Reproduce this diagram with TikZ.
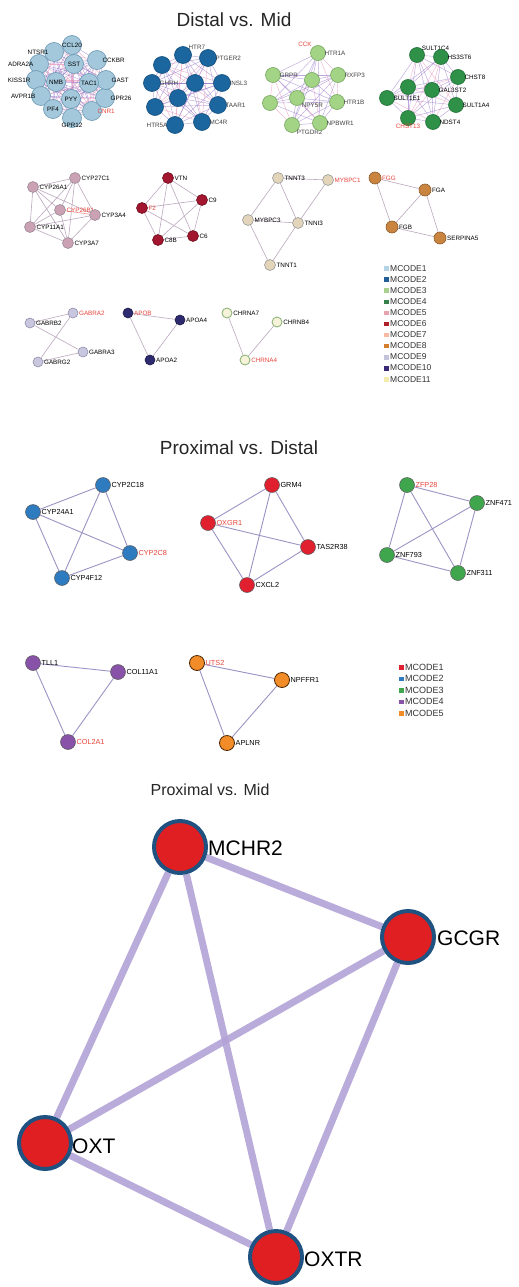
\documentclass[tikz,border=0pt]{standalone}
\usepackage{fontspec}
\setmainfont{Liberation Sans}
\pgfdeclarelayer{bg}
\pgfdeclarelayer{edges}
\pgfsetlayers{bg,edges,main}
% colours
\definecolor{labred}{HTML}{E8453C}
\definecolor{epurp}{HTML}{9270C8}
\definecolor{epink}{HTML}{E98BB5}
\definecolor{cA}{HTML}{A3C8DC}\definecolor{cAd}{HTML}{6A97B2}
\definecolor{cB}{HTML}{1C66A0}\definecolor{cBd}{HTML}{134E7C}
\definecolor{cC}{HTML}{A3D385}\definecolor{cCd}{HTML}{78A862}
\definecolor{cD}{HTML}{2E9147}\definecolor{cDd}{HTML}{1F6E36}
\definecolor{cE}{HTML}{CBA2B3}\definecolor{cEd}{HTML}{9C8A97}
\definecolor{cF}{HTML}{A2172F}\definecolor{cFd}{HTML}{6E1020}
\definecolor{cG}{HTML}{E3D5B9}\definecolor{cGd}{HTML}{9A9A9A}
\definecolor{cH}{HTML}{C98440}\definecolor{cHd}{HTML}{8D5A28}
\definecolor{cI}{HTML}{C9C7DF}\definecolor{cId}{HTML}{8F8FA8}
\definecolor{cJ}{HTML}{2E2A70}\definecolor{cJd}{HTML}{1C1A45}
\definecolor{cK}{HTML}{F6F3DA}\definecolor{cKd}{HTML}{8FB57A}
\definecolor{lg1}{HTML}{B5D3E6}\definecolor{lg2}{HTML}{215D97}
\definecolor{lg3}{HTML}{A9D18E}\definecolor{lg4}{HTML}{34804A}
\definecolor{lg5}{HTML}{E7A3AB}\definecolor{lg6}{HTML}{B01F2A}
\definecolor{lg7}{HTML}{F8B9A1}\definecolor{lg8}{HTML}{D57E2E}
\definecolor{lg9}{HTML}{C3C3DC}\definecolor{lg10}{HTML}{3B2A78}
\definecolor{lg11}{HTML}{F3ECAE}
\definecolor{pBlue}{HTML}{2F7BBF}\definecolor{pRed}{HTML}{E0202F}
\definecolor{pGreen}{HTML}{3FA64E}\definecolor{pPurp}{HTML}{8752A8}
\definecolor{pOrng}{HTML}{F28C28}
\definecolor{gEdge}{HTML}{BBA8BE}
\definecolor{pEdge}{HTML}{9D93C4}
\definecolor{bigEdge}{HTML}{B3A3D6}
\definecolor{bigFill}{HTML}{E01F22}
\definecolor{bigRing}{HTML}{1F5280}
\tikzset{
  lb/.style={font=\fontsize{6.3}{7}\selectfont, text=black!75, inner sep=0.6pt},
  lbm/.style={font=\fontsize{7.3}{8}\selectfont, text=black!85, inner sep=0.6pt},
  nd/.style={circle, inner sep=0pt, line width=0.6pt},
  ndA/.style={nd, minimum size=19pt, fill=cA, draw=cAd},
  ndB/.style={nd, minimum size=17pt, fill=cB, draw=cBd},
  ndC/.style={nd, minimum size=15pt, fill=cC, draw=cCd},
  ndD/.style={nd, minimum size=15pt, fill=cD, draw=cDd},
  ndS/.style={nd, minimum size=11pt},
  ndP/.style={nd, minimum size=15pt, draw=black!65, line width=0.5pt},
  edT/.style={line width=0.45pt, opacity=0.6},
  edG/.style={line width=0.6pt, draw=gEdge},
  edP/.style={line width=0.9pt, draw=pEdge},
  edBig/.style={line width=7pt, draw=bigEdge, opacity=0.9},
  bigN/.style={circle, inner sep=0pt, minimum size=52pt, fill=bigFill, draw=bigRing, line width=4pt},
  bigL/.style={font=\fontsize{21}{24}\selectfont, anchor=west, inner sep=0pt, text=black},
  ttl/.style={font=\fontsize{19}{22}\selectfont, text=black!85},
  legsq/.style={inner sep=0pt, minimum size=5.5pt, draw=white, line width=0.3pt},
  legtx/.style={font=\fontsize{8.5}{9}\selectfont, anchor=west, inner sep=0pt, text=black!80},
}
\newcommand\myclique[2]{%
  \pgfmathtruncatemacro\mm{#2-1}%
  \foreach \i in {1,...,\mm}{%
    \pgfmathtruncatemacro\kk{\i+1}%
    \foreach \j in {\kk,...,#2}{%
      \pgfmathtruncatemacro\cc{mod(\i+2*\j,3)}%
      \ifnum\cc=0 \def\ec{epink}\else\def\ec{epurp}\fi
      \draw[edT, draw=\ec] (#1\i) -- (#1\j);
    }%
  }%
}
\begin{document}
\begin{tikzpicture}[x=1pt,y=-1pt]
\begin{pgfonlayer}{bg}
\fill[white] (0,0) rectangle (519,1287);
\end{pgfonlayer}
\useasboundingbox (0,0) rectangle (519,1287);

% ---------------- Distal vs. Mid ----------------
\node[ttl] (t1) at (234,20) {Distal vs. Mid};

% MCODE1
\foreach \n/\x/\y/\a/\t/\c in {
 1/72/45/center/CCL20/black, 2/54/52/west/NTSR1/black, 3/39/64/west/ADRA2A/black,
 4/36/80/west/KISS1R/black, 5/41/96/west/AVPR1B/black, 6/53/109/center/PF4/black,
 7/72/118/south/GPR12/black, 8/92/111/east/CNR1/labred, 9/105/98/east/GPR26/black,
 10/106/80/east/GAST/black, 11/97/60/east/CCKBR/black, 12/74/64/center/SST/black,
 13/56/82/center/NMB/black, 14/89/83/center/TAC1/black, 15/71/99/center/PYY/black}
 {\node[ndA, label={[lb, text=\c, label distance=-5pt]\a:\t}] (a\n) at (\x,\y) {};}

% MCODE2
\foreach \n/\x/\y/\a/\t in {
 1/183/55/north east/HTR7, 2/208/58/east/PTGER2, 3/162/65/east/{}, 4/152/83/east/GHRH,
 5/195/83/east/{}, 6/222/83/east/INSL3, 7/178/98/east/{}, 8/155/107/east/{},
 9/218/105/east/TAAR1, 10/175/125/west/HTR5A, 11/202/122/east/MC4R}
 {\node[ndB, label={[lb, label distance=-2pt]\a:\t}] (b\n) at (\x,\y) {};}

% MCODE3
\foreach \n/\x/\y/\a/\t in {
 1/318/53/east/HTR1A, 2/273/75/east/GRPR, 3/312/80/east/{}, 4/338/75/east/RXFP3,
 5/270/103/east/{}, 6/297/98/south east/NPY5R, 7/337/102/east/HTR1B,
 8/292/125/south east/PTGDR2, 9/320/123/east/NPBWR1}
 {\node[ndC, label={[lb, label distance=-2pt]\a:\t}] (c\n) at (\x,\y) {};}
\node[lb, text=labred, anchor=south east] (c1red) at (c1.north west) {CCK};

% MCODE4
\foreach \n/\x/\y/\a/\t/\c in {
 1/417/55/north east/SULT1C4/black, 2/441/57/east/HS3ST6/black, 3/458/77/east/CHST8/black,
 4/408/87/east/{}/black, 5/432/90/east/GAL3ST2/black, 6/387/98/east/SULT1E1/black,
 7/456/105/east/SULT1A4/black, 8/408/118/south/CHST13/labred, 9/433/122/east/NDST4/black}
 {\node[ndD, label={[lb, text=\c, label distance=-2pt]\a:\t}] (d\n) at (\x,\y) {};}

\begin{pgfonlayer}{edges}
 \myclique{a}{15}
 \myclique{b}{11}
 \myclique{c}{9}
 \myclique{d}{9}
\end{pgfonlayer}

% MCODE5
\foreach \n/\x/\y/\t/\c in {1/33/187/CYP26A1/black, 2/75/178/CYP27C1/black,
 3/60/210/CYP26B1/labred, 4/95/215/CYP3A4/black, 5/30/227/CYP11A1/black, 6/68/243/CYP3A7/black}
 {\node[ndS, fill=cE, draw=cEd, label={[lb, text=\c]east:\t}] (e\n) at (\x,\y) {};}
% MCODE6
\foreach \n/\x/\y/\t/\c in {1/168/178/VTN/black, 2/202/200/C9/black, 3/142/208/F2/labred,
 4/193/236/C6/black, 5/158/240/C8B/black}
 {\node[ndS, fill=cF, draw=cFd, label={[lb, text=\c]east:\t}] (f\n) at (\x,\y) {};}
% MCODE7
\foreach \n/\x/\y/\t/\c in {1/278/178/TNNT3/black, 2/328/180/MYBPC1/labred,
 3/248/220/MYBPC3/black, 4/298/223/TNNI3/black, 5/270/265/TNNT1/black}
 {\node[ndS, fill=cG, draw=cGd, label={[lb, text=\c]east:\t}] (g\n) at (\x,\y) {};}
% MCODE8
\foreach \n/\x/\y/\t/\c in {1/375/178/FGG/labred, 2/425/190/FGA/black,
 3/392/227/FGB/black, 4/440/238/SERPINA5/black}
 {\node[ndS, minimum size=12pt, fill=cH, draw=cHd, label={[lb, text=\c]east:\t}] (h\n) at (\x,\y) {};}
% MCODE9
\foreach \n/\x/\y/\t/\c in {1/73/313/GABRA2/labred, 2/30/323/GABRB2/black,
 3/83/352/GABRA3/black, 4/38/362/GABRG2/black}
 {\node[ndS, minimum size=10pt, fill=cI, draw=cId, label={[lb, text=\c]east:\t}] (i\n) at (\x,\y) {};}
% MCODE10
\foreach \n/\x/\y/\t/\c in {1/128/313/APOB/labred, 2/180/320/APOA4/black, 3/150/360/APOA2/black}
 {\node[ndS, minimum size=10pt, fill=cJ, draw=cJd, label={[lb, text=\c]east:\t}] (j\n) at (\x,\y) {};}
% MCODE11
\foreach \n/\x/\y/\t/\c in {1/227/313/CHRNA7/black, 2/277/322/CHRNB4/black, 3/245/360/CHRNA4/labred}
 {\node[ndS, minimum size=10pt, fill=cK, draw=cKd, line width=0.9pt, label={[lb, text=\c]east:\t}] (k\n) at (\x,\y) {};}

\begin{pgfonlayer}{edges}
 \foreach \u/\v in {1/2,1/3,1/4,1/5,1/6,2/3,2/4,2/5,2/6,3/5,3/6,4/5,4/6,5/6}
   {\draw[edG] (e\u) -- (e\v);}
 \draw[edG, draw=labred!60] (e3) -- (e4);
 \foreach \u/\v in {1/2,1/3,1/4,1/5,2/3,2/4,2/5,3/4,3/5,4/5}
   {\draw[edG] (f\u) -- (f\v);}
 \foreach \u/\v in {1/2,1/3,1/4,2/4,3/4,3/5,4/5}
   {\draw[edG] (g\u) -- (g\v);}
 \foreach \u/\v in {1/2,1/3,2/3,2/4,3/4}
   {\draw[edG] (h\u) -- (h\v);}
 \foreach \u/\v in {1/2,2/3,1/4,4/3}
   {\draw[edG] (i\u) -- (i\v);}
 \foreach \u/\v in {1/2,1/3,2/3}
   {\draw[edG] (j\u) -- (j\v);}
 \foreach \u/\v in {1/3,2/3}
   {\draw[edG] (k\u) -- (k\v);}
\end{pgfonlayer}

% legend 1
\foreach \k/\col in {1/lg1,2/lg2,3/lg3,4/lg4,5/lg5,6/lg6,7/lg7,8/lg8,9/lg9,10/lg10,11/lg11}{
  \node[legsq, fill=\col] (ls\k) at (386,{257+11.1*\k}) {};
  \node[legtx] (lt\k) at (390,{257+11.1*\k}) {MCODE\k};
}

% ---------------- Proximal vs. Distal ----------------
\node[ttl] (t2) at (239,448) {Proximal vs. Distal};

\foreach \n/\x/\y/\t/\c in {1/103/485/CYP2C18/black, 2/33/512/CYP24A1/black,
 3/130/553/CYP2C8/labred, 4/62/578/CYP4F12/black}
 {\node[ndP, fill=pBlue, label={[lbm, text=\c]east:\t}] (p\n) at (\x,\y) {};}
\foreach \n/\x/\y/\t/\c in {1/272/485/GRM4/black, 2/208/523/OXGR1/labred,
 3/308/547/TAS2R38/black, 4/247/585/CXCL2/black}
 {\node[ndP, fill=pRed, label={[lbm, text=\c]east:\t}] (q\n) at (\x,\y) {};}
\foreach \n/\x/\y/\t/\c in {1/407/485/ZFP28/labred, 2/477/503/ZNF471/black,
 3/387/555/ZNF793/black, 4/458/573/ZNF311/black}
 {\node[ndP, fill=pGreen, label={[lbm, text=\c]east:\t}] (r\n) at (\x,\y) {};}
\foreach \n/\x/\y/\t/\c in {1/33/663/TLL1/black, 2/118/672/COL11A1/black, 3/68/742/COL2A1/labred}
 {\node[ndP, fill=pPurp, label={[lbm, text=\c]east:\t}] (s\n) at (\x,\y) {};}
\foreach \n/\x/\y/\t/\c in {1/197/663/UTS2/labred, 2/282/680/NPFFR1/black, 3/227/743/APLNR/black}
 {\node[ndP, fill=pOrng, draw=black!70!orange, line width=0.8pt, label={[lbm, text=\c]east:\t}] (u\n) at (\x,\y) {};}

\begin{pgfonlayer}{edges}
 \foreach \u/\v in {1/2,1/3,1/4,2/3,2/4,3/4}{
   \draw[edP] (p\u) -- (p\v);
   \draw[edP] (q\u) -- (q\v);
   \draw[edP] (r\u) -- (r\v);
 }
 \foreach \u/\v in {1/2,1/3,2/3}{
   \draw[edP] (s\u) -- (s\v);
   \draw[edP] (u\u) -- (u\v);
 }
\end{pgfonlayer}

% legend 2
\foreach \k/\col in {1/pRed,2/pBlue,3/pGreen,4/pPurp,5/pOrng}{
  \node[legsq, fill=\col] (ms\k) at (401,{655.5+11.5*\k}) {};
  \node[legtx, font=\fontsize{9}{10}\selectfont] (mt\k) at (405,{655.5+11.5*\k}) {MCODE\k};
}

% ---------------- Proximal vs. Mid ----------------
\node[font=\fontsize{16}{19}\selectfont, text=black!85] (t3) at (210,790) {Proximal vs. Mid};

\node[bigN] (MCHR2) at (180,847) {};
\node[bigN] (GCGR) at (408,937) {};
\node[bigN] (OXT) at (45,1143) {};
\node[bigN] (OXTR) at (276,1257) {};
\node[bigL] (MCHR2l) at (208,848) {MCHR2};
\node[bigL] (GCGRl) at (437,938) {GCGR};
\node[bigL] (OXTl) at (72,1146) {OXT};
\node[bigL] (OXTRl) at (304,1259) {OXTR};
\begin{pgfonlayer}{edges}
 \foreach \u/\v in {MCHR2/GCGR, MCHR2/OXT, MCHR2/OXTR, GCGR/OXT, GCGR/OXTR, OXT/OXTR}
   {\draw[edBig] (\u) -- (\v);}
\end{pgfonlayer}
\end{tikzpicture}
\end{document}
